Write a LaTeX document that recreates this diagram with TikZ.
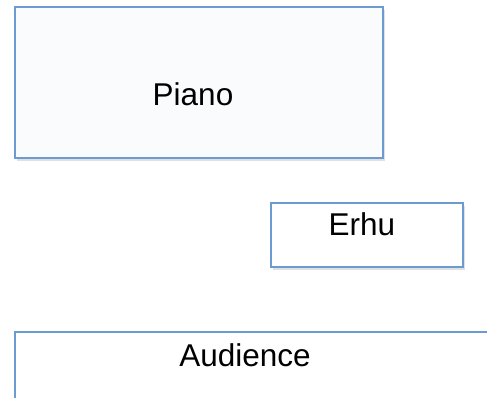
\documentclass[tikz,border=0pt]{standalone}
\usepackage{fontspec}
\setmainfont{Liberation Sans}
\usepackage{tikz}
\usetikzlibrary{shadows}

\definecolor{boxblue}{HTML}{6C9BD2}
\definecolor{boxfill}{HTML}{FAFBFC}

\tikzset{
  stagebox/.style={draw=boxblue, line width=1.6pt,
    drop shadow={shadow xshift=2pt, shadow yshift=-3pt, opacity=0.12, fill=black}},
  stagetext/.style={anchor=base, inner sep=0pt, font=\fontsize{31.5}{36}\selectfont}
}

\begin{document}
\begin{tikzpicture}[x=1pt, y=-1pt]

\useasboundingbox (0,0) rectangle (487,397);
\clip (0,0) rectangle (487,397);

% piano at the back
\fill[white] (0,0) rectangle (487,397);
\draw[stagebox, fill=boxfill] (15,7) rectangle (383,158);
\node[stagetext] (piano) at (193,105.7) {Piano};

% erhu
\draw[stagebox, fill=white] (271,203) rectangle (463,267);
\node[stagetext] (erhu) at (362,235) {Erhu};

% audience, runs off the page
\draw[stagebox, fill=white] (15,332) rectangle (520,440);
\node[stagetext] (audience) at (245,366) {Audience};

\end{tikzpicture}
\end{document}
